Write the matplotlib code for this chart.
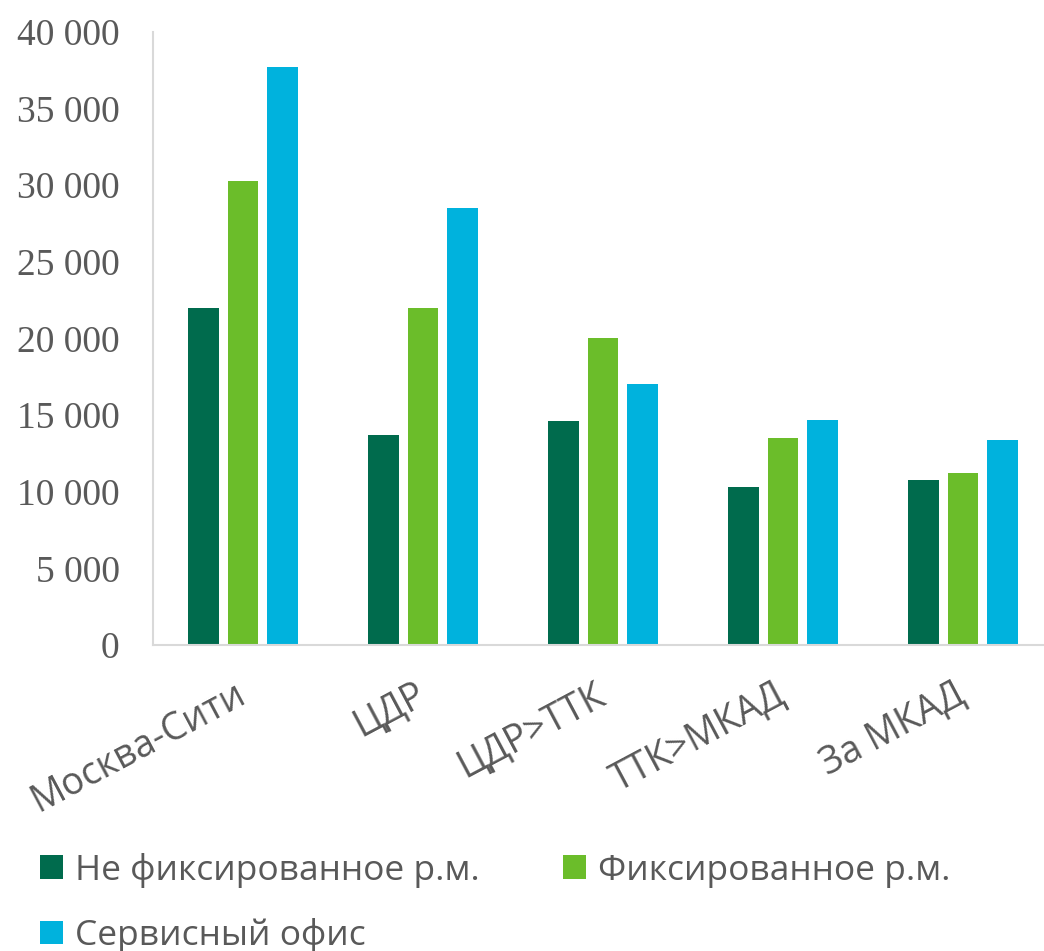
import matplotlib
matplotlib.use("Agg")
import numpy as np
from matplotlib import pyplot as plt

# Данные
categories = ["Москва-Сити", "ЦДР", "ЦДР>ТТК", "ТТК>МКАД", "За МКАД"]
series_names = ["Не фиксированное р.м.", "Фиксированное р.м.", "Сервисный офис"]
not_fixed = [22000, 13700, 14600, 10300, 10750]
fixed = [30300, 22000, 20050, 13500, 11200]
service = [37700, 28500, 17050, 14650, 13350]
yticks = [0, 5000, 10000, 15000, 20000, 25000, 30000, 35000, 40000]
ytick_labels = ["0", "5 000", "10 000", "15 000", "20 000", "25 000", "30 000", "35 000", "40 000"]

colors = ["#006B4D", "#6BBD2A", "#00B2DD"]
text_gray = "#595959"

fig = plt.figure(figsize=(10.44, 9.51), dpi=100)
ax = fig.add_axes([153 / 1044, 306 / 951, 900 / 1044, 613 / 951])

x = np.arange(len(categories))
width = 0.172
step = 0.222
for i, (vals, name) in enumerate(zip([not_fixed, fixed, service], series_names)):
    ax.bar(x + (i - 1) * step, vals, width, color=colors[i], label=name, zorder=2)

ax.set_xlim(-0.5, len(categories) - 0.5)
ax.set_ylim(0, 40000)
ax.set_yticks(yticks)
ax.set_yticklabels(ytick_labels, fontfamily="Liberation Serif", fontsize=27, color=text_gray)
ax.tick_params(axis="y", length=0, pad=24)
ax.set_xticks(x)
ax.set_xticklabels(categories, rotation=28, ha="right", va="center", rotation_mode="anchor",
                   fontfamily="Open Sans", fontsize=27, color=text_gray)
ax.tick_params(axis="x", length=0, pad=34)

for side in ["top", "right"]:
    ax.spines[side].set_visible(False)
for side in ["left", "bottom"]:
    ax.spines[side].set_color("#D9D9D9")
    ax.spines[side].set_linewidth(1.5)

# легенда идёт по строкам, а matplotlib заполняет по столбцам
handles, labels = ax.get_legend_handles_labels()
order = [0, 2, 1]
leg = fig.legend([handles[i] for i in order], [labels[i] for i in order], ncol=2,
                 loc="upper left", bbox_to_anchor=(0.008, 0.137),
                 frameon=False, handlelength=0.65, handleheight=0.65, handletextpad=0.34,
                 columnspacing=2.35, labelspacing=0.86,
                 prop={"family": "Open Sans", "size": 25.5})
for t in leg.get_texts():
    t.set_color(text_gray)

fig.savefig("out.png", dpi=100)
